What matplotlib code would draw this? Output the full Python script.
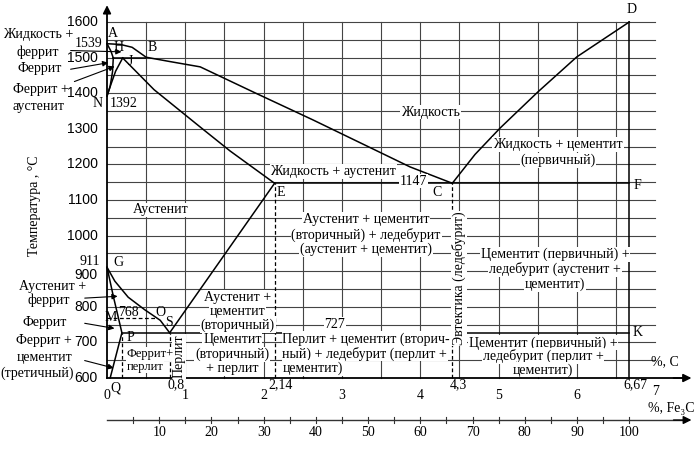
import numpy as np
import matplotlib.pyplot as plt

plt.rcParams['font.family'] = ['Liberation Serif', 'DejaVu Serif']

# --- линии диаграммы (C, %  /  температура, °C) ---
# ликвидус A-B-C
abc_x = [0, 0.17, 0.32, 0.5, 0.8, 1.19, 1.9, 2.63, 3.87, 4.41]
abc_t = [1539, 1537, 1529, 1501, 1489, 1474, 1400, 1325, 1193, 1147]
# ликвидус C-D
cd_x = [4.41, 4.7, 5.02, 5.5, 6.0, 6.67]
cd_t = [1147, 1228, 1302, 1403, 1502, 1600]
ah_x = [0, 0.05, 0.08]
ah_t = [1539, 1518, 1499]
hn_x = [0.08, 0.07, 0.04, 0]
hn_t = [1499, 1460, 1420, 1392]
nj_x = [0, 0.05, 0.11, 0.2]
nj_t = [1392, 1425, 1462, 1499]
je_x = [0.2, 0.6, 1.19, 1.57, 2.14]
je_t = [1499, 1410, 1305, 1238, 1147]
gs_x = [0, 0.1, 0.27, 0.48, 0.68, 0.8]
gs_t = [911, 872, 827, 792, 762, 727]
gpq_x = [0, 0.08, 0.19, 0.04]
gpq_t = [911, 830, 727, 600]
se_x = [0.8, 2.14]
se_t = [727, 1147]

# изотермы: (x начала, x конца, температура)
hjb = (0.08, 0.5, 1499)
ecf = (2.14, 6.67, 1147)
psk = (0.19, 6.67, 727)
mo = (0, 0.64, 768)

# вертикальные пунктиры
dash_x = [0.19, 0.8, 2.14, 4.41]
dash_top = [727, 727, 1147, 1147]

y_ticks = [600, 700, 800, 900, 1000, 1100, 1200, 1300, 1400, 1500, 1600]
c_ticks = [0, 1, 2, 3, 4, 5, 6, 7]
c_special = [0.8, 2.14, 4.41, 6.67]
c_special_lab = ['0,8', '2,14', '4,3', '6,67']
fe3c_ticks = list(range(5, 105, 5))
fe3c_labels = list(range(10, 110, 10))

fig = plt.figure(figsize=(6.98, 4.49), dpi=100)
ax = fig.add_axes([0, 0, 1, 1])
ax.set_xlim(-1.367, 7.548)
ax.set_ylim(400.6, 1661.8)
ax.axis('off')

K = 'black'
lw = 1.1

# сетка
for gx in np.arange(0.5, 7.0, 0.5):
    ax.plot([gx, gx], [600, 1600], color='#444', lw=0.8, zorder=1)
for gt in range(650, 1601, 50):
    ax.plot([0, 7], [gt, gt], color='#444', lw=0.8, zorder=1)
ax.plot([6.67, 6.67], [600, 1600], color=K, lw=lw, zorder=2)

# оси
ax.plot([0, 0], [600, 1640], color=K, lw=1.3, zorder=2)
ax.annotate('', xy=(0, 1655), xytext=(0, 1620),
            arrowprops=dict(arrowstyle='-|>', color=K, lw=1.2, mutation_scale=12))
ax.plot([0, 7.4], [600, 600], color=K, lw=1.3, zorder=2)
ax.annotate('', xy=(7.5, 600), xytext=(7.2, 600),
            arrowprops=dict(arrowstyle='-|>', color=K, lw=1.2, mutation_scale=12))

# линии фаз
for xs, ts in [(abc_x, abc_t), (cd_x, cd_t), (ah_x, ah_t), (hn_x, hn_t),
               (nj_x, nj_t), (je_x, je_t), (gs_x, gs_t), (gpq_x, gpq_t), (se_x, se_t)]:
    ax.plot(xs, ts, color=K, lw=lw, zorder=2)
for x0, x1, t in [hjb, ecf, psk]:
    ax.plot([x0, x1], [t, t], color=K, lw=lw, zorder=2)
ax.plot([mo[0], mo[1]], [mo[2], mo[2]], color=K, lw=0.9, ls=(0, (3, 2)), zorder=2)
for dx, top in zip(dash_x, dash_top):
    ax.plot([dx, dx], [600, top], color=K, lw=0.9, ls=(0, (3, 2)), zorder=2)

# подписи шкалы температур
for t in y_ticks:
    ty = t - 10 if t == 900 else t
    ax.text(-0.12, ty, str(t), ha='right', va='center', fontsize=10,
            family=['Liberation Sans', 'DejaVu Sans'])

fs = 10
box = dict(facecolor='white', edgecolor='none', pad=0.6)


def lab(x, t, s, ha='center', bg=True, size=fs, rot=0):
    ax.text(x, t, s, ha=ha, va='center', fontsize=size, zorder=4, rotation=rot,
            bbox=box if bg else None)


def arrow(x0, t0, x1, t1):
    ax.annotate('', xy=(x1, t1), xytext=(x0, t0),
                arrowprops=dict(arrowstyle='-|>', color=K, lw=0.8, mutation_scale=8))


# левые подписи
lab(-0.88, 1566, 'Жидкость +', bg=False)
lab(-0.88, 1515, 'феррит', bg=False)
arrow(-0.5, 1520, 0.22, 1516)
lab(-0.06, 1541, '1539', ha='right', bg=False)
lab(-0.86, 1470, 'Феррит', bg=False)
arrow(-0.5, 1466, 0.05, 1487)
lab(-0.85, 1411, 'Феррит +', bg=False)
lab(-0.87, 1362, 'аустенит', bg=False)
arrow(-0.45, 1430, 0.13, 1478)
lab(-0.05, 1370, 'N', ha='right', bg=False)
lab(0.04, 1372, '1392', ha='left', bg=False)
lab(-0.93, 1085, 'Температура , °C', bg=False, rot=90)
lab(-0.09, 928, '911', ha='right', bg=False)
lab(-0.7, 858, 'Аустенит +', bg=False)
lab(-0.74, 818, 'феррит', bg=False)
arrow(-0.32, 824, 0.17, 830)
lab(-0.8, 757, 'Феррит', bg=False)
arrow(-0.32, 755, 0.13, 738)
lab(-0.8, 706, 'Феррит +', bg=False)
lab(-0.8, 657, 'цементит', bg=False)
lab(-0.89, 612, '(третичный)', bg=False)
arrow(-0.32, 651, 0.12, 626)

# точки
for x, t, s in [(0.08, 1569, 'A'), (0.15, 1527, 'H'), (0.57, 1528, 'B'), (0.3, 1490, 'J'),
                (0.14, 924, 'G'), (0.05, 771, 'M'), (0.68, 783, 'O'), (0.79, 757, 'S'),
                (0.3, 715, 'P'), (0.11, 572, 'Q'), (2.22, 1120, 'E'), (4.22, 1120, 'C'),
                (6.7, 1634, 'D'), (6.78, 1140, 'F'), (6.78, 729, 'K')]:
    lab(x, t, s, bg=False)
lab(0.27, 783, '768', bg=False)

# области
lab(4.13, 1347, 'Жидкость')
lab(2.89, 1181, 'Жидкость + аустенит')
lab(3.91, 1153, '1147')
lab(5.76, 1256, 'Жидкость + цементит')
lab(5.76, 1212, '(первичный)')
lab(0.68, 1072, 'Аустенит')
lab(3.31, 1045, 'Аустенит + цементит')
lab(3.31, 1003, '(вторичный) + ледебурит')
lab(3.31, 961, '(аустенит + цементит)')
lab(5.72, 948, 'Цементит (первичный) +')
lab(5.72, 906, 'ледебурит (аустенит +')
lab(5.72, 863, 'цементит)')
lab(4.5, 880, 'Эвтектика (ледебурит)', rot=90)
lab(1.67, 826, 'Аустенит +')
lab(1.67, 787, 'цементит')
lab(1.67, 748, '(вторичный)')
lab(2.91, 750, '727')
lab(1.6, 707, 'Цементит')
lab(1.6, 667, '(вторичный)')
lab(1.6, 626, '+ перлит')
lab(2.24, 710, 'Перлит + цементит (вторич-', ha='left')
lab(2.24, 669, 'ный) + ледебурит (перлит +', ha='left')
lab(2.24, 628, 'цементит)', ha='left')
lab(5.57, 699, 'Цементит (первичный) +')
lab(5.57, 663, 'ледебурит (перлит +')
lab(5.57, 623, 'цементит)')
lab(0.92, 660, 'Перлит', rot=90)
lab(0.25, 667, 'Феррит+', ha='left', size=9)
lab(0.25, 632, 'перлит', ha='left', size=9)

# шкала C, %
for c in c_ticks:
    ty = 562 if c == 7 else 552
    ax.text(c, ty, str(c), ha='center', va='center', fontsize=fs)
for c, s in zip(c_special, c_special_lab):
    ax.text(c + 0.08, 582, s, ha='center', va='center', fontsize=fs)
ax.text(7.13, 645, '%, C', ha='center', va='center', fontsize=fs)

# шкала Fe3C, %
ax.plot([0, 7.4], [482, 482], color='#333', lw=1.0)
ax.annotate('', xy=(7.5, 482), xytext=(7.2, 482),
            arrowprops=dict(arrowstyle='-|>', color=K, lw=1.0, mutation_scale=12))
for p in fe3c_ticks:
    xc = p * 6.67 / 100
    ax.plot([xc, xc], [474, 490], color='#333', lw=0.8)
for p in fe3c_labels:
    ax.text(p * 6.67 / 100, 446, str(p), ha='center', va='center', fontsize=fs)
ax.text(7.21, 515, '%, Fe₃C', ha='center', va='center', fontsize=fs)

fig.savefig('out.png', dpi=100)
